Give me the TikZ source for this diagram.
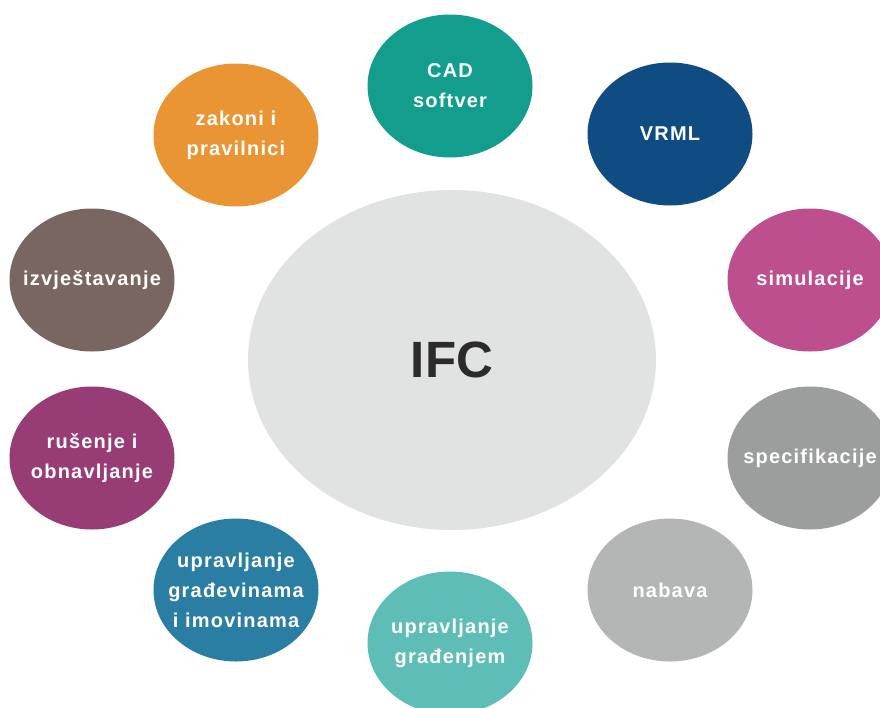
\documentclass[tikz,border=0pt]{standalone}
\usepackage{fontspec}
\setmainfont{Liberation Sans}
\newfontfamily\topicfont[LetterSpace=6]{Liberation Sans}
\usetikzlibrary{shapes.geometric}
\usetikzlibrary{positioning}

\definecolor{ifcgrey}{HTML}{E1E2E2}
\definecolor{cadteal}{HTML}{139D8C}
\definecolor{vrmlblue}{HTML}{0F4C81}
\definecolor{simpink}{HTML}{BD4F8F}
\definecolor{specgrey}{HTML}{9C9D9D}
\definecolor{nabgrey}{HTML}{B4B5B5}
\definecolor{gradteal}{HTML}{5EBDB6}
\definecolor{imovblue}{HTML}{2B7EA3}
\definecolor{rusviolet}{HTML}{973C74}
\definecolor{izvbrown}{HTML}{7A6660}
\definecolor{zakorange}{HTML}{E99533}
\definecolor{ifctext}{HTML}{2B2B2B}

\begin{document}
\begin{tikzpicture}
			[
				x = 1pt, y = -1pt,
				hub/.style = {ellipse, minimum width = 408pt, minimum height = 340pt, inner sep = 0pt, fill = ifcgrey, text = ifctext, font = \fontsize{51}{57}\selectfont\bfseries},
				topic/.style = {ellipse, minimum width = 165pt, minimum height = 143pt, inner xsep = -14pt, inner ysep = 0pt, text = white, align = center, font = \topicfont\fontsize{20}{30}\selectfont\bfseries},
			]
			\useasboundingbox (0,0) rectangle (880,707);
			\node (ifc) [hub] at (452,360) {IFC};
			\node (cad) [topic, fill = cadteal] at (450,86) {CAD\\softver};
			\node (vrml) [topic, fill = vrmlblue] at (670,134) {VRML};
			\node (sim) [topic, fill = simpink] at (810,280) {simulacije};
			\node (spec) [topic, fill = specgrey] at (810,458) {specifikacije};
			\node (nabava) [topic, fill = nabgrey] at (670,590) {nabava};
			\node (gradenje) [topic, fill = gradteal] at (450,643) {upravljanje\\građenjem};
			\node (imovina) [topic, fill = imovblue] at (236,590) {upravljanje\\građevinama\\i imovinama};
			\node (rusenje) [topic, fill = rusviolet] at (92,458) {rušenje i\\obnavljanje};
			\node (izvjestaji) [topic, fill = izvbrown] at (92,280) {izvještavanje};
			\node (zakoni) [topic, fill = zakorange] at (236,135) {zakoni i\\pravilnici};
		\end{tikzpicture}
\end{document}
